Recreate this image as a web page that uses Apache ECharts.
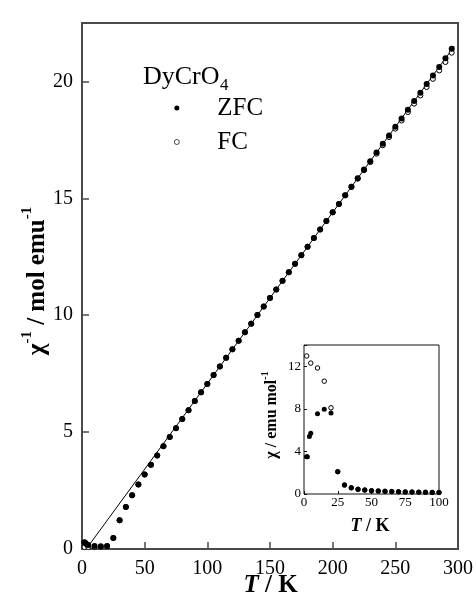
<!DOCTYPE html>
<html>
<head>
<meta charset="utf-8">
<script src="https://cdn.jsdelivr.net/npm/echarts@6/dist/echarts.min.js"></script>
<style>
html,body{margin:0;padding:0;background:#fff;}
#chart{width:476px;height:614px;}
</style>
</head>
<body>
<div id="chart"></div>
<script>
// ---- Main plot data: inverse susceptibility vs T ----
const mainTZfc = [1.8, 2.5, 4, 5, 10, 15, 20, 25, 30, 35, 40, 45, 50, 55, 60, 65, 70, 75, 80, 85, 90, 95, 100,
  105, 110, 115, 120, 125, 130, 135, 140, 145, 150, 155, 160, 165, 170, 175, 180, 185, 190, 195, 200,
  205, 210, 215, 220, 225, 230, 235, 240, 245, 250, 255, 260, 265, 270, 275, 280, 285, 290, 295];
const mainInvZfc = [0.29, 0.27, 0.19, 0.17, 0.13, 0.12, 0.13, 0.47, 1.23, 1.80, 2.30, 2.76, 3.19, 3.60, 4.00, 4.40, 4.79, 5.17, 5.56, 5.94, 6.33, 6.70, 7.06,
  7.44, 7.81, 8.18, 8.54, 8.91, 9.27, 9.64, 10.01, 10.37, 10.74, 11.10, 11.47, 11.84, 12.20, 12.57, 12.93, 13.30, 13.67, 14.03, 14.40,
  14.76, 15.13, 15.50, 15.86, 16.23, 16.59, 16.96, 17.33, 17.69, 18.06, 18.42, 18.79, 19.16, 19.52, 19.89, 20.25, 20.62, 20.99, 21.40];
const mainTFc = [2, 5, 10, 15, 20, 25, 30, 35, 40, 45, 50, 55, 60, 65, 70, 75, 80, 85, 90, 95, 100,
  105, 110, 115, 120, 125, 130, 135, 140, 145, 150, 155, 160, 165, 170, 175, 180, 185, 190, 195, 200,
  205, 210, 215, 220, 225, 230, 235, 240, 245, 250, 255, 260, 265, 270, 275, 280, 285, 290, 295];
const mainInvFc = [0.08, 0.08, 0.08, 0.09, 0.12, 0.47, 1.23, 1.80, 2.30, 2.76, 3.19, 3.60, 4.00, 4.40, 4.79, 5.17, 5.56, 5.94, 6.33, 6.70, 7.06,
  7.44, 7.81, 8.18, 8.54, 8.91, 9.27, 9.64, 10.01, 10.37, 10.74, 11.10, 11.47, 11.84, 12.20, 12.57, 12.93, 13.30, 13.67, 14.03, 14.40,
  14.76, 15.13, 15.49, 15.84, 16.20, 16.55, 16.91, 17.27, 17.62, 17.98, 18.33, 18.69, 19.05, 19.40, 19.76, 20.11, 20.47, 20.83, 21.23];
// Curie-Weiss fit line end points
const fitT = [5, 297];
const fitInv = [0.12, 21.5];

// ---- Inset data: susceptibility vs T ----
const insetTZfc = [1.8, 2.5, 4, 5, 10, 15, 20, 25, 30, 35, 40, 45, 50, 55, 60, 65, 70, 75, 80, 85, 90, 95, 100];
const insetChiZfc = [3.5, 3.5, 5.4, 5.7, 7.55, 7.97, 7.6, 2.1, 0.84, 0.58, 0.44, 0.37, 0.31, 0.28, 0.25, 0.23, 0.21, 0.19, 0.18, 0.17, 0.16, 0.15, 0.14];
const insetTFc = [2, 5, 10, 15, 20, 25, 30, 35, 40, 45, 50, 55, 60, 65, 70, 75, 80, 85, 90, 95, 100];
const insetChiFc = [12.97, 12.3, 11.84, 10.6, 8.1, 2.1, 0.84, 0.58, 0.44, 0.37, 0.31, 0.28, 0.25, 0.23, 0.21, 0.19, 0.18, 0.17, 0.16, 0.15, 0.14];

// tick definitions
const mainXTicks = {min: 0, max: 300, interval: 50};
const mainYTicks = {min: 0, max: 22.5, interval: 5};
const insetXTicks = {min: 0, max: 100, interval: 25};
const insetYTicks = {min: 0, max: 14, interval: 4};

const zip = (a, b) => a.map((v, i) => [v, b[i]]);
const SERIF = "'Liberation Serif', 'Times New Roman', serif";

const chart = echarts.init(document.getElementById('chart'), null, {renderer: 'canvas'});

function axisCommon(fontSize, tickLen, margin, tickColor, tickWidth, ticks) {
  return {
    type: 'value',
    min: ticks.min, max: ticks.max, interval: ticks.interval,
    axisLine: {show: false},
    splitLine: {show: false},
    axisTick: {show: true, inside: true, length: tickLen, lineStyle: {color: tickColor, width: tickWidth}},
    axisLabel: {
      fontFamily: SERIF, fontSize: fontSize, color: '#000', margin: margin,
      formatter: v => (Math.abs(v / ticks.interval - Math.round(v / ticks.interval)) < 1e-9 ? String(v) : '')
    }
  };
}

const option = {
  animation: false,
  backgroundColor: '#fff',
  grid: [
    {left: 82, top: 23, right: 17, bottom: 65, show: true, borderColor: '#4a4a4a', borderWidth: 2, backgroundColor: 'transparent'},
    {left: 304, top: 345, right: 37, bottom: 120, show: true, borderColor: '#111', borderWidth: 1, backgroundColor: '#fff'}
  ],
  xAxis: [
    Object.assign(axisCommon(20, 7, 10, '#4a4a4a', 1.5, mainXTicks), {gridIndex: 0}),
    Object.assign(axisCommon(13, 3, 2, '#111', 1, insetXTicks), {gridIndex: 1})
  ],
  yAxis: [
    Object.assign(axisCommon(20, 7, 9, '#4a4a4a', 1.5, mainYTicks), {gridIndex: 0}),
    Object.assign(axisCommon(13, 3, 3, '#111', 1, insetYTicks), {gridIndex: 1})
  ],
  legend: {
    orient: 'vertical',
    left: 174, top: 95,
    padding: 0,
    itemWidth: 5, itemHeight: 5,
    itemGap: 8,
    selectedMode: false,
    data: [
      {name: 'ZFC', icon: 'circle', itemStyle: {color: '#000', borderWidth: 0}},
      {name: 'FC', icon: 'circle', itemStyle: {color: '#fff', borderColor: '#000', borderWidth: 0.7}}
    ],
    textStyle: {fontFamily: SERIF, fontSize: 25, color: '#000', lineHeight: 26, padding: [0, 0, 0, 33]}
  },
  series: [
    {
      type: 'line', name: 'fit', xAxisIndex: 0, yAxisIndex: 0,
      data: zip(fitT, fitInv), showSymbol: false, symbol: 'none',
      lineStyle: {color: '#000', width: 1}, z: 1
    },
    {
      type: 'scatter', name: 'FC', xAxisIndex: 0, yAxisIndex: 0,
      data: zip(mainTFc, mainInvFc), symbol: 'circle', symbolSize: 5,
      itemStyle: {color: '#fff', borderColor: '#000', borderWidth: 1, opacity: 1}, z: 2
    },
    {
      type: 'scatter', name: 'ZFC', xAxisIndex: 0, yAxisIndex: 0,
      data: zip(mainTZfc, mainInvZfc), symbol: 'circle', symbolSize: 6,
      itemStyle: {color: '#000', opacity: 1}, z: 3
    },
    {
      type: 'scatter', name: 'FC', xAxisIndex: 1, yAxisIndex: 1,
      data: zip(insetTFc, insetChiFc), symbol: 'circle', symbolSize: 4.5,
      itemStyle: {color: '#fff', borderColor: '#000', borderWidth: 1, opacity: 1}, z: 4
    },
    {
      type: 'scatter', name: 'ZFC', xAxisIndex: 1, yAxisIndex: 1,
      data: zip(insetTZfc, insetChiZfc), symbol: 'circle', symbolSize: 5,
      itemStyle: {color: '#000', opacity: 1}, z: 5
    }
  ],
  graphic: [
    // compound label
    {type: 'text', left: 143, top: 64, style: {text: 'DyCrO', fontFamily: SERIF, fontSize: 26, fill: '#000'}},
    {type: 'text', left: 220, top: 77, style: {text: '4', fontFamily: SERIF, fontSize: 17, fill: '#000'}},
    // main y title
    {
      type: 'text', x: 35, y: 281, rotation: Math.PI / 2,
      style: {
        text: '{a|χ}{s|-1}{a| / mol emu}{s|-1}',
        align: 'center', verticalAlign: 'middle',
        rich: {
          a: {fontFamily: SERIF, fontSize: 25, fontWeight: 'bold', fill: '#000', lineHeight: 30, verticalAlign: 'bottom'},
          s: {fontFamily: SERIF, fontSize: 15, fontWeight: 'bold', fill: '#000', lineHeight: 18, verticalAlign: 'top'}
        }
      }
    },
    // main x title
    {
      type: 'text', x: 270.5, y: 586,
      style: {
        text: '{t|T}{n| / K}', align: 'center', verticalAlign: 'middle',
        rich: {
          t: {fontFamily: SERIF, fontSize: 25, fontWeight: 'bold', fontStyle: 'italic', fill: '#000'},
          n: {fontFamily: SERIF, fontSize: 25, fontWeight: 'bold', fill: '#000'}
        }
      }
    },
    // inset y title
    {
      type: 'text', x: 270, y: 415, rotation: Math.PI / 2,
      style: {
        text: '{a|χ / emu mol}{s|-1}',
        align: 'center', verticalAlign: 'middle',
        rich: {
          a: {fontFamily: SERIF, fontSize: 16, fontWeight: 'bold', fill: '#000', lineHeight: 20, verticalAlign: 'bottom'},
          s: {fontFamily: SERIF, fontSize: 10, fontWeight: 'bold', fill: '#000', lineHeight: 12, verticalAlign: 'top'}
        }
      }
    },
    // inset x title
    {
      type: 'text', x: 370, y: 526,
      style: {
        text: '{t|T}{n| / K}', align: 'center', verticalAlign: 'middle',
        rich: {
          t: {fontFamily: SERIF, fontSize: 18, fontWeight: 'bold', fontStyle: 'italic', fill: '#000'},
          n: {fontFamily: SERIF, fontSize: 18, fontWeight: 'bold', fill: '#000'}
        }
      }
    }
  ]
};
chart.setOption(option);
</script>
</body>
</html>
